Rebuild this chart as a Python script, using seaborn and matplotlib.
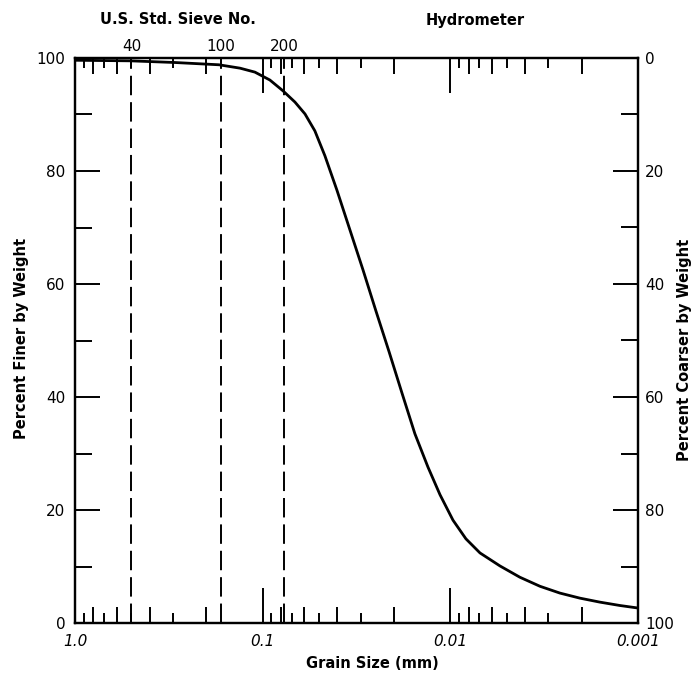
import numpy as np
import pandas as pd
import matplotlib
matplotlib.use("Agg")
import matplotlib.pyplot as plt
import seaborn as sns
from matplotlib.ticker import FixedLocator, NullFormatter

# ---- data ----
grain_mm = [1.0, 0.509, 0.293, 0.171, 0.132, 0.110, 0.0915, 0.0780, 0.0673,
            0.0595, 0.0527, 0.0466, 0.0402, 0.0343, 0.0292, 0.0249, 0.0212,
            0.0181, 0.01545, 0.01316, 0.01135, 0.00968, 0.00826, 0.00695,
            0.00544, 0.00426, 0.00333, 0.00261, 0.00204, 0.00160, 0.00125, 0.001]
pct_finer = [99.6, 99.5, 99.2, 98.8, 98.2, 97.5, 96.1, 94.2, 92.2,
             90.1, 87.1, 82.7, 76.6, 69.6, 62.5, 55.2, 48.0,
             40.7, 33.5, 27.6, 22.7, 18.2, 14.9, 12.4,
             10.1, 8.1, 6.5, 5.3, 4.4, 3.7, 3.1, 2.65]
sieve_numbers = ["40", "100", "200"]
sieve_mm = [0.5, 0.167, 0.077]
x_major = [1.0, 0.1, 0.01, 0.001]
x_major_labels = ["1.0", "0.1", "0.01", "0.001"]
x_minor_odd = [m * d for d in (0.1, 0.01, 0.001) for m in (9, 7, 5, 3)]
x_minor_even = [m * d for d in (0.1, 0.01, 0.001) for m in (8, 6, 4, 2)]
y_major = [0, 20, 40, 60, 80, 100]
y_minor = [10, 30, 50, 70, 90]

df = pd.DataFrame({"grain": grain_mm, "finer": pct_finer})

sns.set_style("white")
plt.rcParams["font.family"] = ["DejaVu Sans"]
plt.rcParams["lines.scale_dashes"] = False
plt.rcParams["text.color"] = "black"
plt.rcParams["xtick.color"] = "black"
plt.rcParams["ytick.color"] = "black"
plt.rcParams["axes.edgecolor"] = "black"

fig = plt.figure(figsize=(6.94, 6.77), dpi=100)
ax = fig.add_axes([75 / 694, 1 - 623 / 677, 563 / 694, 565 / 677])

sns.lineplot(data=df, x="grain", y="finer", ax=ax, color="black", lw=2.0,
             estimator=None, sort=False)
ax.set_xscale("log")
ax.set_xlim(1.0, 0.001)
ax.set_ylim(0, 100)
ax.set_xlabel("")
ax.set_ylabel("")

for s in sieve_mm:
    ax.axvline(s, color="black", lw=1.4, dashes=(14, 5))

for sp in ax.spines.values():
    sp.set_linewidth(1.6)
    sp.set_color("black")

# x ticks
ax.xaxis.set_major_locator(FixedLocator(x_major))
ax.set_xticklabels(x_major_labels, fontstyle="italic", fontsize=11, color="black")
ax.xaxis.set_minor_locator(FixedLocator(x_minor_odd))
ax.xaxis.set_minor_formatter(NullFormatter())
ax.tick_params(axis="x", which="major", direction="in", length=25, width=1.4,
               top=True, bottom=True, labeltop=False, pad=8, colors="black")
ax.tick_params(axis="x", which="minor", direction="in", length=7.5, width=1.4,
               top=True, bottom=True, colors="black")

for loc in ("bottom", "top"):
    sec = ax.secondary_xaxis(loc)
    sec.xaxis.set_major_locator(FixedLocator(x_minor_even))
    sec.xaxis.set_major_formatter(NullFormatter())
    sec.xaxis.set_minor_locator(FixedLocator([]))
    sec.tick_params(which="major", direction="in", length=11.5, width=1.4, colors="black")
    sec.spines[loc].set_visible(False)

# sieve numbers on top
sv = ax.secondary_xaxis("top")
sv.xaxis.set_major_locator(FixedLocator(sieve_mm))
sv.set_xticklabels(sieve_numbers, fontsize=11, color="black")
sv.xaxis.set_minor_locator(FixedLocator([]))
sv.tick_params(which="major", length=0, pad=3)
sv.spines["top"].set_visible(False)

# y ticks left
ax.set_yticks(y_major)
ax.set_yticklabels([str(v) for v in y_major], fontsize=11, color="black")
ax.yaxis.set_minor_locator(FixedLocator(y_minor))
ax.tick_params(axis="y", which="major", direction="in", length=18, width=1.4,
               left=True, right=False, pad=7, colors="black")
ax.tick_params(axis="y", which="minor", direction="in", length=12, width=1.4,
               left=True, right=False, colors="black")

# right axis
ax2 = ax.twinx()
ax2.set_ylim(100, 0)
ax2.set_yticks(y_major)
ax2.set_yticklabels([str(v) for v in y_major], fontsize=11, color="black")
ax2.yaxis.set_minor_locator(FixedLocator(y_minor))
ax2.tick_params(axis="y", which="major", direction="in", length=18, width=1.4,
                pad=5, colors="black")
ax2.tick_params(axis="y", which="minor", direction="in", length=12, width=1.4,
                colors="black")
for sp in ax2.spines.values():
    sp.set_linewidth(1.6)
    sp.set_color("black")

lab = dict(fontsize=10.5, fontweight="bold", color="black")
fig.text(372 / 694, 1 - 664 / 677, "Grain Size (mm)", ha="center", va="center", **lab)
fig.text(22 / 694, 1 - 338 / 677, "Percent Finer by Weight", ha="center",
         va="center", rotation=90, **lab)
fig.text(684 / 694, 1 - 350 / 677, "Percent Coarser by Weight", ha="center",
         va="center", rotation=90, **lab)
fig.text(178 / 694, 1 - 20 / 677, "U.S. Std. Sieve No.", ha="center", va="center", **lab)
fig.text(475 / 694, 1 - 20 / 677, "Hydrometer", ha="center", va="center", **lab)

fig.savefig("out.png", dpi=100)
